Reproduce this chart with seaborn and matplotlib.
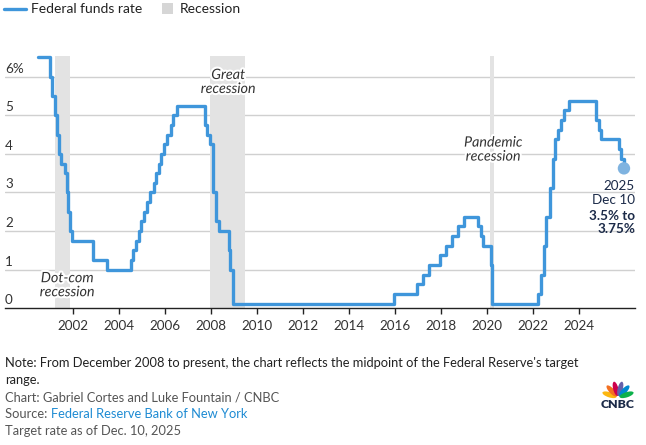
import matplotlib
matplotlib.use("Agg")
import matplotlib.pyplot as plt
import matplotlib.patheffects as pe
from matplotlib.lines import Line2D
from matplotlib.patches import Rectangle, Ellipse
import seaborn as sns
import pandas as pd
import numpy as np

# ---------------- data ----------------
dates = [
    "2000-06-15", "2001-01-03", "2001-01-31", "2001-03-20", "2001-04-18", "2001-05-15",
    "2001-06-27", "2001-08-21", "2001-09-17", "2001-10-02", "2001-11-06", "2001-12-11",
    "2002-11-06", "2003-06-25", "2004-06-30", "2004-08-10", "2004-09-21", "2004-11-10",
    "2004-12-14", "2005-02-02", "2005-03-22", "2005-05-03", "2005-06-30", "2005-08-09",
    "2005-09-20", "2005-11-01", "2005-12-13", "2006-01-31", "2006-03-28", "2006-05-10",
    "2006-06-29", "2007-09-18", "2007-10-31", "2007-12-11", "2008-01-22", "2008-01-30",
    "2008-03-18", "2008-04-30", "2008-10-08", "2008-10-29", "2008-12-16", "2015-12-16",
    "2016-12-14", "2017-03-15", "2017-06-14", "2017-12-13", "2018-03-21", "2018-06-13",
    "2018-09-26", "2018-12-19", "2019-07-31", "2019-09-18", "2019-10-30", "2020-03-03",
    "2020-03-15", "2022-03-16", "2022-05-04", "2022-06-15", "2022-07-27", "2022-09-21",
    "2022-11-02", "2022-12-14", "2023-02-01", "2023-03-22", "2023-05-03", "2023-07-26",
    "2024-09-18", "2024-11-07", "2024-12-18", "2025-09-17", "2025-10-29", "2025-12-10",
]
rates = [
    6.5, 6.0, 5.5, 5.0, 4.5, 4.0,
    3.75, 3.5, 3.0, 2.5, 2.0, 1.75,
    1.25, 1.0, 1.25, 1.5, 1.75, 2.0,
    2.25, 2.5, 2.75, 3.0, 3.25, 3.5,
    3.75, 4.0, 4.25, 4.5, 4.75, 5.0,
    5.25, 4.75, 4.5, 4.25, 3.5, 3.0,
    2.25, 2.0, 1.5, 1.0, 0.125, 0.375,
    0.625, 0.875, 1.125, 1.375, 1.625, 1.875,
    2.125, 2.375, 2.125, 1.875, 1.625, 1.125,
    0.125, 0.375, 0.875, 1.625, 2.375, 3.125,
    3.875, 4.375, 4.625, 4.875, 5.125, 5.375,
    4.875, 4.625, 4.375, 4.125, 3.875, 3.625,
]
recession_starts = ["2001-03-15", "2007-12-15", "2020-02-05"]
recession_ends = ["2001-11-08", "2009-06-15", "2020-04-15"]
recession_labels = ["Dot-com\nrecession", "Great\nrecession", "Pandemic\nrecession"]
recession_label_x = [2001.73, 2008.73, 2020.25]
recession_label_y = [0.6, 5.86, 4.11]
x_ticks = [2002, 2004, 2006, 2008, 2010, 2012, 2014, 2016, 2018, 2020, 2022, 2024]
y_ticks = [0, 1, 2, 3, 4, 5, 6]
y_tick_labels = ["0", "1", "2", "3", "4", "5", "6%"]
end_label_lines = ["2025", "Dec 10", "3.5% to", "3.75%"]


def to_year(s):
    d = pd.to_datetime(pd.Series(s))
    days = np.where(d.dt.is_leap_year, 366, 365)
    return (d.dt.year + (d.dt.dayofyear - 1) / days).to_numpy()


df = pd.DataFrame({"year": to_year(dates), "rate": rates})

BLUE = "#3f96db"
FONT = ["Lato", "DejaVu Sans"]

sns.set_theme(style="white")
plt.rcParams["font.family"] = FONT

W, H = 646, 445
fig = plt.figure(figsize=(W / 100, H / 100), dpi=100)
ax_left, ax_right = 5, 635
ax_bottom_px, ax_top_px = 308.4, 53.4
ax = fig.add_axes([ax_left / W, 1 - ax_bottom_px / H, (ax_right - ax_left) / W,
                   (ax_bottom_px - ax_top_px) / H])

xlim = (1999.03, 2026.42)
ylim = (0, 6.6)
ax.set_xlim(*xlim)
ax.set_ylim(*ylim)

# gridlines
for v in y_ticks[1:]:
    ax.axhline(v, color="#d0d0d0", lw=1, zorder=0)

# recession bands
rs = to_year(recession_starts)
re_ = to_year(recession_ends)
for a, b in zip(rs, re_):
    ax.fill_between([a, b], 0, 6.53, color="#e3e3e3", lw=0, zorder=1)

sns.lineplot(data=df, x="year", y="rate", drawstyle="steps-post", color=BLUE,
             linewidth=2.4, estimator=None, ax=ax, zorder=3)
ax.scatter([df["year"].iloc[-1]], [df["rate"].iloc[-1]], s=80, color="#7fb3e0",
           zorder=4, edgecolor="none")

# recession labels
for x, y, lab in zip(recession_label_x, recession_label_y, recession_labels):
    ax.text(x, y, lab,
            ha="center", va="center", fontsize=10.3, style="italic", color="#333333",
            linespacing=1.2, zorder=5,
            path_effects=[pe.withStroke(linewidth=3, foreground="white")])

# end label
end_y = [3.165, 2.80, 2.40, 2.05]
trans = ax.get_yaxis_transform()
for i, (txt, y) in enumerate(zip(end_label_lines, end_y)):
    ax.text(1.0, y, txt, transform=trans, ha="right", va="center", fontsize=9.7,
            color="#1b2a48", fontweight="bold" if i >= 2 else "normal", zorder=5)

# axes styling
for s in ["top", "right", "left"]:
    ax.spines[s].set_visible(False)
ax.spines["bottom"].set_color("#222222")
ax.spines["bottom"].set_linewidth(1)
ax.set_xticks(x_ticks)
ax.set_xticklabels([str(t) for t in x_ticks])
ax.tick_params(axis="x", length=4, width=1, color="#222222", pad=4, labelsize=9.7,
               labelcolor="#333333", bottom=True)
ax.set_yticks([])
ax.set_xlabel("")
ax.set_ylabel("")
ax.grid(False)
ylab_trans = matplotlib.transforms.offset_copy(ax.get_yaxis_transform(), fig=fig, x=0, y=4,
                                               units="dots")
for v, lab in zip(y_ticks, y_tick_labels):
    ax.text(0.0, v, lab, transform=ylab_trans, ha="left", va="baseline", fontsize=9.7,
            color="#333333")

# legend (manual)
ly = 1 - 9 / H
fig.add_artist(Line2D([4 / W, 26 / W], [ly, ly], color=BLUE, lw=2.4))
fig.text(31 / W, ly, "Federal funds rate", ha="left", va="center", fontsize=10, color="#222222")
fig.add_artist(Rectangle((162 / W, 1 - 14 / H), 11 / W, 11 / H, color="#d6d6d6", lw=0))
fig.text(180 / W, ly, "Recession", ha="left", va="center", fontsize=10, color="#222222")

# footer
fs = 9.3
fig.text(5 / W, 1 - 363 / H, "Note: From December 2008 to present, the chart reflects the midpoint "
         "of the Federal Reserve's target", ha="left", va="center", fontsize=fs, color="#222222")
fig.text(5 / W, 1 - 380 / H, "range.", ha="left", va="center", fontsize=fs, color="#222222")
fig.text(5 / W, 1 - 398 / H, "Chart: Gabriel Cortes and Luke Fountain / CNBC", ha="left",
         va="center", fontsize=fs, color="#555555")
t = fig.text(5 / W, 1 - 414 / H, "Source: ", ha="left", va="center", fontsize=fs, color="#555555")
fig.canvas.draw()
bb = t.get_window_extent()
fig.text(bb.x1 / W, 1 - 414 / H, "Federal Reserve Bank of New York", ha="left", va="center",
         fontsize=fs, color="#1e8bd3")
fig.text(5 / W, 1 - 431 / H, "Target rate as of Dec. 10, 2025", ha="left", va="center",
         fontsize=fs, color="#555555")

# CNBC logo (peacock petals)
lax = fig.add_axes([600 / W, 1 - 399 / H, 36 / W, 19 / H])
lax.set_xlim(-1.9, 1.9)
lax.set_ylim(0, 2.0)
lax.set_aspect("equal")
lax.axis("off")
peacock = ["#fcb711", "#f37021", "#cc004c", "#6460aa", "#0089d0", "#0db14b"]
angles = np.linspace(162, 18, 6)
for c, ang in zip(peacock, angles):
    r = np.deg2rad(ang)
    cx, cy = 0.95 * np.cos(r), 0.15 + 0.95 * np.sin(r)
    lax.add_patch(Ellipse((cx, cy), 1.55, 0.55, angle=ang, color=c, lw=0))
fig.text(618 / W, 1 - 404 / H, "CNBC", ha="center", va="center", fontsize=8.8,
         fontweight="heavy", color="#1b2a48")

fig.savefig("out.png", dpi=100)
